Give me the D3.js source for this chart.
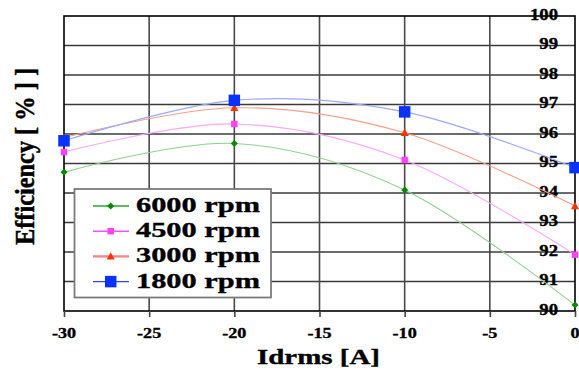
<!DOCTYPE html>
<html>
<head>
<meta charset="utf-8">
<script src="https://cdn.jsdelivr.net/npm/d3@7"></script>
<style>
html,body{margin:0;padding:0;background:#fff;}
svg{display:block;}
text{font-family:"Liberation Serif","Times New Roman",serif;font-weight:bold;fill:#000;stroke:#000;stroke-width:0.35px;}
</style>
</head>
<body>
<svg id="chart" width="579" height="377"></svg>
<script>
// ---- data ----
const idrms = [-30, -20, -10, 0];
const eff6000 = [94.70, 95.68, 94.10, 90.20];
const eff4500 = [95.39, 96.34, 95.12, 91.91];
const eff3000 = [95.88, 96.89, 96.04, 93.56];
const eff1800 = [95.77, 97.14, 96.75, 94.86];
const seriesNames = ["6000 rpm", "4500 rpm", "3000 rpm", "1800 rpm"];
const xTicks = [-30, -25, -20, -15, -10, -5, 0];
const yTicks = [90, 91, 92, 93, 94, 95, 96, 97, 98, 99, 100];
const xTitle = "Idrms [A]";
const yTitle = "Efficiency [ % ] ]";

const series = [
  {name: seriesNames[0], values: eff6000, line: "#8fd08f", legLine: "#2aa52a", mark: "#008a00", shape: "diamond", size: 7},
  {name: seriesNames[1], values: eff4500, line: "#ffa6ff", legLine: "#ff4dff", mark: "#ff40ff", shape: "square", size: 6.5},
  {name: seriesNames[2], values: eff3000, line: "#ff9c8c", legLine: "#ff8080", mark: "#ff3300", shape: "triangle", size: 8},
  {name: seriesNames[3], values: eff1800, line: "#9aa8ff", legLine: "#2a46ff", mark: "#0a32ff", shape: "bigsquare", size: 11.5}
];

const svg = d3.select("#chart");
const L = 64, R = 575, T = 16, B = 311;
const x = d3.scaleLinear().domain([-30, 0]).range([L, R]);
const y = d3.scaleLinear().domain([90, 100]).range([B, T]);

// grid
const g = svg.append("g");
g.selectAll("line.h").data(yTicks.filter(d => d > 90 && d < 100)).enter().append("line")
  .attr("x1", L).attr("x2", R).attr("y1", d => y(d)).attr("y2", d => y(d))
  .attr("stroke", "#3a3a3a").attr("stroke-width", 1.5);
g.selectAll("line.v").data(xTicks.filter(d => d > -30 && d < 0)).enter().append("line")
  .attr("y1", T).attr("y2", B).attr("x1", d => x(d)).attr("x2", d => x(d))
  .attr("stroke", "#4a4a4a").attr("stroke-width", 1.6);

// frame
svg.append("rect").attr("x", L).attr("y", T).attr("width", R - L).attr("height", B - T)
  .attr("fill", "none").attr("stroke", "#000").attr("stroke-width", 1.6);

// x ticks (downward) via axis
const xAxis = d3.axisBottom(x).tickValues(xTicks).tickSize(6).tickFormat("");
const xa = svg.append("g").attr("transform", `translate(0,${B})`).call(xAxis);
xa.select(".domain").remove();
xa.selectAll(".tick line").attr("stroke", "#444").attr("stroke-width", 1.6);

// x tick labels
svg.selectAll("text.xt").data(xTicks).enter().append("text")
  .attr("text-anchor", "middle").attr("font-size", 14.5)
  .attr("transform", d => `translate(${x(d)},${338}) scale(1.25,1)`)
  .text(d => d3.format("d")(d).replace("−", "-"));

// y tick labels (inside right)
svg.selectAll("text.yt").data(yTicks).enter().append("text")
  .attr("text-anchor", "end").attr("font-size", 17)
  .attr("transform", d => `translate(558,${y(d) + 3.5}) scale(1.1,1)`)
  .text(d => d);

// lines
const lineGen = d3.line().x((d, i) => x(idrms[i])).y(d => y(d)).curve(d3.curveCardinal.tension(0));
series.forEach(s => {
  svg.append("path").attr("d", lineGen(s.values)).attr("fill", "none")
    .attr("stroke", s.line).attr("stroke-width", 1.1);
});

function drawMarker(sel, shape, size, color, cx, cy) {
  if (shape === "diamond") {
    const r = size / 2;
    sel.append("path").attr("d", `M${cx},${cy - r}L${cx + r},${cy}L${cx},${cy + r}L${cx - r},${cy}Z`).attr("fill", color);
  } else if (shape === "square" || shape === "bigsquare") {
    sel.append("rect").attr("x", cx - size / 2).attr("y", cy - size / 2).attr("width", size).attr("height", size).attr("fill", color);
  } else if (shape === "triangle") {
    const w = size, h = size * 0.8;
    sel.append("path").attr("d", `M${cx},${cy - h / 2 - 1}L${cx + w / 2},${cy + h / 2}L${cx - w / 2},${cy + h / 2}Z`).attr("fill", color);
  }
}
const mg = svg.append("g");
series.forEach(s => {
  s.values.forEach((v, i) => drawMarker(mg, s.shape, s.size, s.mark, x(idrms[i]), y(v)));
});

// legend
const lg = svg.append("g");
lg.append("rect").attr("x", 74.5).attr("y", 189).attr("width", 196.5).attr("height", 108.5)
  .attr("fill", "#fff").attr("stroke", "#7a7a7a").attr("stroke-width", 1.8);
series.forEach((s, i) => {
  const cy = 206 + i * 25.2;
  lg.append("line").attr("x1", 93).attr("x2", 129).attr("y1", cy).attr("y2", cy)
    .attr("stroke", s.legLine).attr("stroke-width", s.shape === "triangle" ? 2.4 : 1.4);
  drawMarker(lg, s.shape, s.size, s.mark, 110.7, cy);
  lg.append("text").attr("x", 136).attr("y", cy + 6).attr("font-size", 22)
    .attr("textLength", 124).attr("lengthAdjust", "spacingAndGlyphs").text(s.name);
});

// axis titles
svg.append("text").attr("x", 257).attr("y", 364).attr("font-size", 21.5)
  .attr("textLength", 123).attr("lengthAdjust", "spacingAndGlyphs").text(xTitle);
svg.append("text").attr("text-anchor", "middle").attr("font-size", 21)
  .attr("transform", "translate(34,156.5) rotate(-90) scale(1,1.3)")
  .attr("textLength", 177).attr("lengthAdjust", "spacingAndGlyphs").text(yTitle);
</script>
</body>
</html>
